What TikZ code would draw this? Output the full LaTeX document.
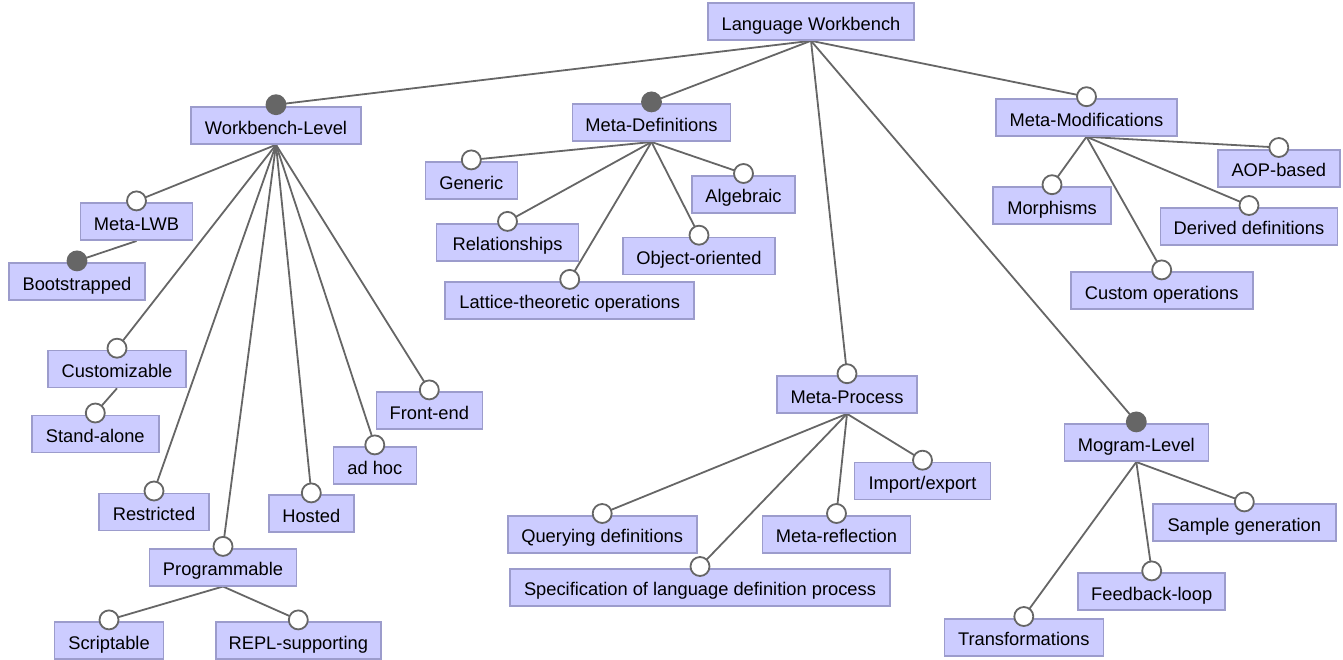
\documentclass[tikz,border=0pt]{standalone}
\usepackage{fontspec}
\setmainfont{Liberation Sans}
\usetikzlibrary{backgrounds}
\definecolor{boxfill}{HTML}{CCCCFF}
\definecolor{boxline}{HTML}{9C9CCC}
\definecolor{edgegray}{HTML}{666666}
\begin{document}
\begin{tikzpicture}[x=1pt,y=-1pt,
  feat/.style={draw=boxline,fill=boxfill,line width=1.6pt,minimum height=37pt,inner sep=0pt,
    text height=17pt,text depth=0pt,
    font=\fontsize{18.3}{21}\selectfont,text=black},
  opt/.style={circle,draw=edgegray,fill=white,line width=1.8pt,minimum size=19pt,inner sep=0pt},
  mand/.style={circle,draw=edgegray,fill=edgegray,line width=1.8pt,minimum size=19pt,inner sep=0pt},
  edge/.style={draw=edgegray,line width=1.8pt}]
\useasboundingbox (0,0) rectangle (1343,659);
% top
\node[feat,minimum width=206pt] (lw) at (811,21.5) {Language Workbench};
\node[feat,minimum width=170pt] (wl) at (276,125.5) {Workbench-Level};
\node[feat,minimum width=158pt] (md) at (651.5,122.7) {Meta-Definitions};
\node[feat,minimum width=181pt] (mm) at (1086.5,117.5) {Meta-Modifications};
\node[feat,minimum width=140pt] (mp) at (847,394.5) {Meta-Process};
\node[feat,minimum width=144pt] (ml) at (1136.3,442.7) {Mogram-Level};
% workbench-level children
\node[feat,minimum width=112pt] (mlwb) at (136.5,221.7) {Meta-LWB};
\node[feat,minimum width=136pt] (boot) at (77,281.7) {Bootstrapped};
\node[feat,minimum width=138pt] (cust) at (117,369) {Customizable};
\node[feat,minimum width=127pt] (stand) at (95.3,433.8) {Stand-alone};
\node[feat,minimum width=110pt] (restr) at (154,511.8) {Restricted};
\node[feat,minimum width=85pt] (hosted) at (311.3,513.7) {Hosted};
\node[feat,minimum width=83pt] (adhoc) at (374.8,465.7) {ad hoc};
\node[feat,minimum width=106pt] (front) at (429.3,410.7) {Front-end};
\node[feat,minimum width=147pt] (prog) at (223,567.2) {Programmable};
\node[feat,minimum width=109pt] (script) at (109,640.7) {Scriptable};
\node[feat,minimum width=165pt] (repl) at (298.3,640.7) {REPL-supporting};
% meta-definitions children
\node[feat,minimum width=92pt] (gen) at (471.3,180.7) {Generic};
\node[feat,minimum width=142pt] (rel) at (507.5,242.2) {Relationships};
\node[feat,minimum width=249pt] (latt) at (569.7,300.2) {Lattice-theoretic operations};
\node[feat,minimum width=152pt] (oo) at (699,256) {Object-oriented};
\node[feat,minimum width=103pt] (alg) at (743.5,194.3) {Algebraic};
% meta-modifications children
\node[feat,minimum width=118pt] (morph) at (1052,205.5) {Morphisms};
\node[feat,minimum width=122pt] (aop) at (1278.8,168.3) {AOP-based};
\node[feat,minimum width=177pt] (der) at (1249,226.3) {Derived definitions};
\node[feat,minimum width=182pt] (custop) at (1161.7,290.7) {Custom operations};
% meta-process children
\node[feat,minimum width=189pt] (query) at (602.2,534.3) {Querying definitions};
\node[feat,minimum width=148pt] (mrefl) at (836.5,534.3) {Meta-reflection};
\node[feat,minimum width=380pt] (spec) at (700,587.3) {Specification of language definition process};
\node[feat,minimum width=136pt] (imp) at (922.5,481) {Import/export};
% mogram-level children
\node[feat,minimum width=183pt] (sample) at (1244.3,522.7) {Sample generation};
\node[feat,minimum width=147pt] (feed) at (1151.7,591.7) {Feedback-loop};
\node[feat,minimum width=159pt] (trans) at (1023.8,637.3) {Transformations};
% markers
\foreach \n/\s in {wl/mand,md/mand,mm/opt,mp/opt,ml/mand,
  mlwb/opt,boot/mand,cust/opt,stand/opt,restr/opt,hosted/opt,adhoc/opt,front/opt,prog/opt,script/opt,repl/opt,
  gen/opt,rel/opt,latt/opt,oo/opt,alg/opt,
  morph/opt,aop/opt,der/opt,custop/opt,
  query/opt,mrefl/opt,spec/opt,imp/opt,
  sample/opt,feed/opt,trans/opt}
  \node[\s] (c\n) at ([yshift=1.5pt]\n.north) {};
\begin{scope}[on background layer]
\foreach \p/\c in {lw/wl,lw/md,lw/mm,lw/mp,lw/ml,
  wl/mlwb,mlwb/boot,wl/cust,cust/stand,wl/restr,wl/hosted,wl/adhoc,wl/front,wl/prog,prog/script,prog/repl,
  md/gen,md/rel,md/latt,md/oo,md/alg,
  mm/morph,mm/aop,mm/der,mm/custop,
  mp/query,mp/mrefl,mp/spec,mp/imp,
  ml/sample,ml/feed,ml/trans}
  \draw[edge] (\p.south) -- (c\c.center);
\end{scope}
\end{tikzpicture}
\end{document}
